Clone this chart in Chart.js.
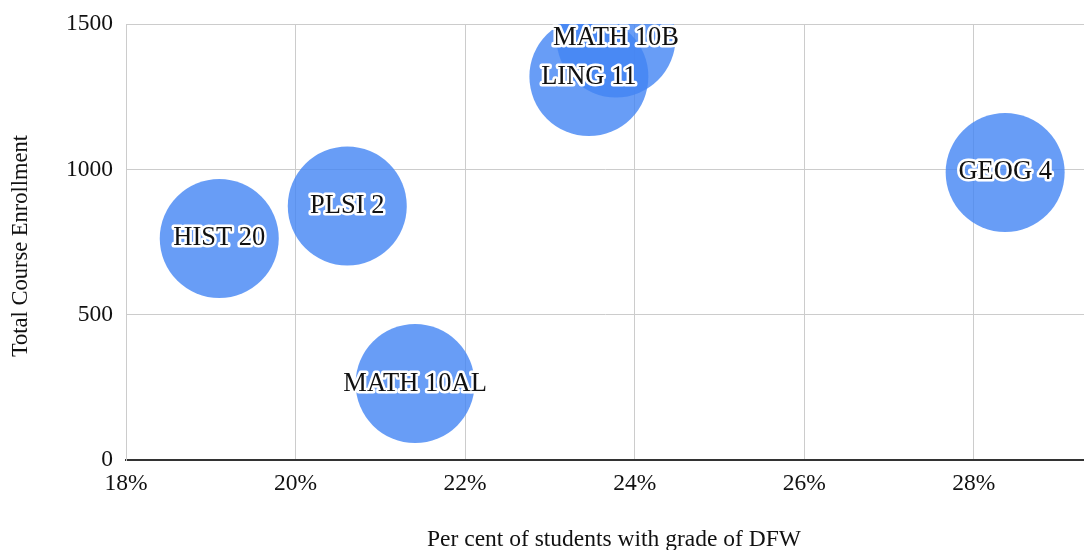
<!DOCTYPE html>
<html>
<head>
<meta charset="utf-8">
<script src="https://cdn.jsdelivr.net/npm/chart.js@4/dist/chart.umd.min.js"></script>
<style>
  html, body { margin: 0; padding: 0; background: #fff; }
  #wrap { width: 1084px; height: 550px; }
</style>
</head>
<body>
<div id="wrap"><canvas id="chart"></canvas></div>
<script>
'use strict';

// ── Data ──────────────────────────────────────────────────────────────────────
const courses    = ['HIST 20', 'PLSI 2', 'MATH 10AL', 'LING 11', 'MATH 10B', 'GEOG 4'];
const dfwPercent = [19.10, 20.61, 21.41, 23.46, 23.78, 28.37];
const enrollment = [762, 874, 263, 1319, 1452, 989];
const bubbleSize = [59.5, 59.5, 59.5, 59.5, 59.5, 59.5];
const xTicks     = [18, 20, 22, 24, 26, 28];
const xTitle     = 'Per cent of students with grade of DFW';
const yTitle     = 'Total Course Enrollment';

const FONT = '"Liberation Serif", "Times New Roman", serif';

// ── Bubble labels (black text with white halo) ────────────────────────────────
const labelPlugin = {
  id: 'bubbleLabels',
  afterDatasetsDraw(chart) {
    const ctx = chart.ctx;
    const meta = chart.getDatasetMeta(0);
    ctx.save();
    ctx.font = '26.5px ' + FONT;
    ctx.textAlign = 'center';
    ctx.textBaseline = 'middle';
    ctx.lineJoin = 'round';
    meta.data.forEach((pt, i) => {
      ctx.lineWidth = 5;
      ctx.strokeStyle = '#fff';
      ctx.strokeText(courses[i], pt.x, pt.y);
      ctx.fillStyle = '#111';
      ctx.fillText(courses[i], pt.x, pt.y);
    });
    ctx.restore();
  }
};

// ── Axis titles (placed by hand, as in the original) ──────────────────────────
const titlePlugin = {
  id: 'axisTitles',
  afterDraw(chart) {
    const ctx = chart.ctx;
    const area = chart.chartArea;
    ctx.save();
    ctx.fillStyle = '#111';
    ctx.textAlign = 'center';
    ctx.textBaseline = 'middle';
    ctx.font = '23.5px ' + FONT;
    ctx.fillText(xTitle, (area.left + area.right) / 2 + 9, 540);
    ctx.font = '22.5px ' + FONT;
    ctx.translate(21, (area.top + area.bottom) / 2 + 4);
    ctx.rotate(-Math.PI / 2);
    ctx.fillText(yTitle, 0, 0);
    ctx.restore();
  }
};

new Chart(document.getElementById('chart'), {
  type: 'bubble',
  data: {
    datasets: [{
      data: courses.map((c, i) => ({ x: dfwPercent[i], y: enrollment[i], r: bubbleSize[i] })),
      backgroundColor: 'rgba(66,133,244,0.8)',
      borderWidth: 0,
      hoverBorderWidth: 0,
      clip: 0,
    }]
  },
  options: {
    responsive: true,
    maintainAspectRatio: false,
    animation: false,
    layout: { autoPadding: false, padding: { top: 24, left: 0, right: 0, bottom: 0 } },
    plugins: {
      legend: { display: false },
      tooltip: { enabled: false },
    },
    scales: {
      x: {
        type: 'linear',
        min: 18,
        max: 29.3,
        afterBuildTicks: (s) => { s.ticks = xTicks.map(v => ({ value: v })); },
        afterFit: (s) => { s.height = 90; s.paddingLeft = 0; s.paddingRight = 0; },
        grid: { color: '#cccccc', drawTicks: false },
        border: { color: '#333333', width: 2 },
        ticks: {
          padding: 10,
          color: '#111',
          font: { family: FONT, size: 23.5 },
          callback: v => v + '%',
        },
      },
      y: {
        min: 0,
        max: 1500,
        afterFit: (s) => { s.width = 126; s.paddingTop = 0; s.paddingBottom = 0; },
        grid: { color: '#cccccc', drawTicks: false },
        border: { color: '#cccccc', width: 1 },
        ticks: {
          stepSize: 500,
          padding: 13,
          color: '#111',
          font: { family: FONT, size: 23.5 },
          callback: v => String(v),
        },
      },
    },
  },
  plugins: [labelPlugin, titlePlugin],
});
</script>
</body>
</html>
